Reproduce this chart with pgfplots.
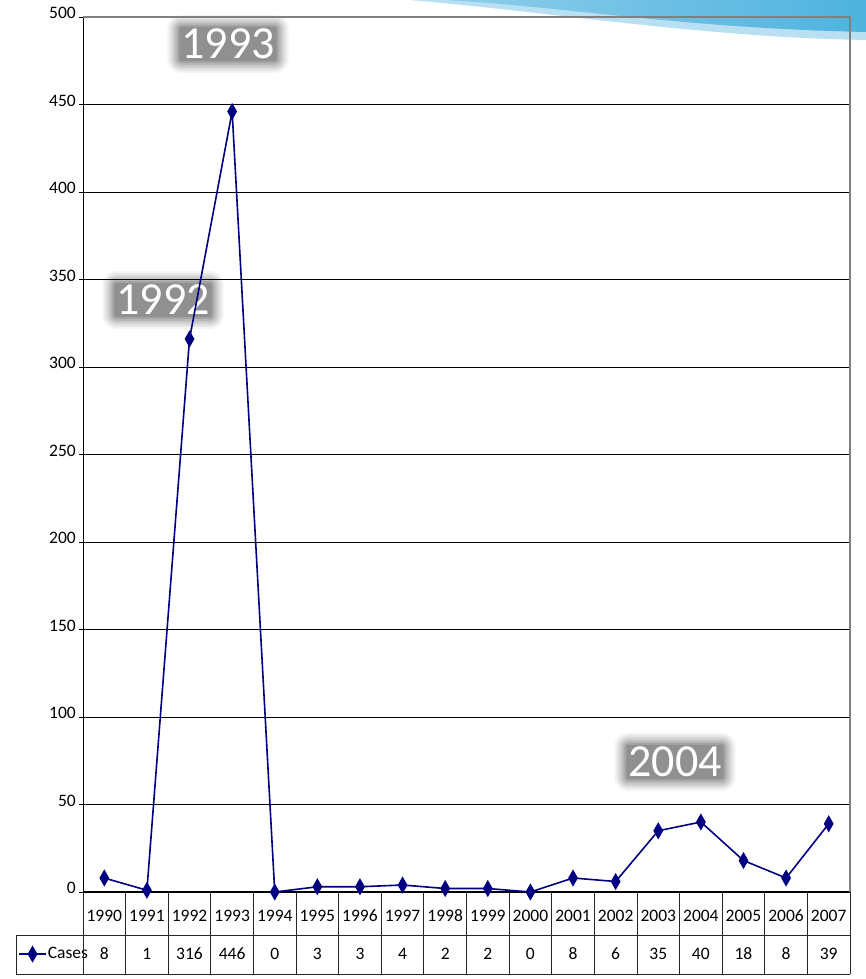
\documentclass[border=0pt]{standalone}
\usepackage{pgfplots}
\pgfplotsset{compat=1.18}
\usepackage{fontspec}
\setmainfont{Carlito}
\definecolor{navyline}{RGB}{0,0,128}
\definecolor{swooshA}{HTML}{8FCDEA}
\definecolor{swooshB}{HTML}{4EB3DF}
\definecolor{swooshL}{HTML}{B8DFF2}
\newcommand\glowlabel[2]{%
  \foreach \s/\o in {14/0.08,12/0.1,10/0.12,8/0.15,6/0.2,4/0.3,2/0.4}{%
    \node[fill=black!55, fill opacity=\o, text opacity=0, rounded corners=\s pt, inner sep=\s pt] at (#1) {\fontsize{46}{50}\selectfont #2};}
  \node[text=white, inner sep=0pt] at (#1) {\fontsize{46}{50}\selectfont #2};}
\begin{document}
\begin{tikzpicture}
\path[use as bounding box] (0pt,0pt) rectangle (866pt,-979pt);
% decorative swoosh
\fill[swooshL] (410pt,0pt) .. controls (560pt,-13pt) and (700pt,-37pt) .. (866pt,-40pt) -- (866pt,0pt) -- cycle;
\shade[left color=swooshA, right color=swooshB] (445pt,0pt) .. controls (560pt,-6pt) and (680pt,-28pt) .. (866pt,-32pt) -- (866pt,0pt) -- cycle;
% annotations
\glowlabel{228pt,-44pt}{1993}
\glowlabel{163pt,-300pt}{1992}
\glowlabel{675pt,-762pt}{2004}
\begin{axis}[
  at={(83pt,-892pt)}, anchor=south west,
  width=767pt, height=875pt, scale only axis,
  xmin=-0.5, xmax=17.5, ymin=0, ymax=500,
  axis x line*=bottom, axis y line*=left,
  x axis line style={black, line width=1.5pt},
  y axis line style={black, line width=1pt},
  ytick={0,50,...,500},
  ymajorgrids, grid style={black, line width=0.8pt},
  tick align=outside, major tick length=4pt,
  ytick style={black, line width=0.8pt},
  xtick={0,...,17},
  xticklabels={1990,1991,1992,1993,1994,1995,1996,1997,1998,1999,2000,2001,2002,2003,2004,2005,2006,2007},
  xtick style={draw=none},
  xticklabel style={anchor=center, yshift=-20pt, font=\fontsize{17.5}{20}\selectfont},
  yticklabel style={anchor=east, inner xsep=3pt, yshift=4pt, font=\fontsize{17.5}{20}\selectfont},
  /pgf/number format/assume math mode=true,
  clip=false,
  legend style={at={(axis description cs:-0.0847,-0.0709)}, anchor=west, draw=none, fill=none,
    inner sep=0pt, font=\fontsize{17.5}{20}\selectfont, nodes={inner sep=1pt}},
  legend image code/.code={\draw[mark repeat=2,mark phase=2,#1] plot coordinates {(0pt,0pt)(13.5pt,0pt)(27pt,0pt)};},
]
\addplot[navyline, line width=1.6pt, mark=diamond*, mark size=7pt, mark options={xscale=0.76, solid}]
  coordinates {(0,8)(1,1)(2,316)(3,446)(4,0)(5,3)(6,3)(7,4)(8,2)(9,2)(10,0)(11,8)(12,6)(13,35)(14,40)(15,18)(16,8)(17,39)};
\addlegendentry{Cases}
\draw[black!50, line width=1.2pt] (axis cs:-0.5,500) -- (axis cs:17.5,500) -- (axis cs:17.5,0);
\end{axis}
% data table
\foreach \i in {0,...,18}{\draw[black!85, line width=0.9pt] ({(83+42.6111*\i)*1pt},-892pt) -- ({(83+42.6111*\i)*1pt},-974pt);}
\draw[black!85, line width=0.9pt] (16pt,-935pt) -- (850pt,-935pt);
\draw[black!85, line width=0.9pt] (16pt,-974pt) -- (850pt,-974pt);
\draw[black!85, line width=0.9pt] (16pt,-935pt) -- (16pt,-974pt);
\foreach \v [count=\i from 0] in {8,1,316,446,0,3,3,4,2,2,0,8,6,35,40,18,8,39}{
  \node[font=\fontsize{17.5}{20}\selectfont] at ({(104.3+42.6111*\i)*1pt},-954pt) {\v};}
\end{tikzpicture}
\end{document}
